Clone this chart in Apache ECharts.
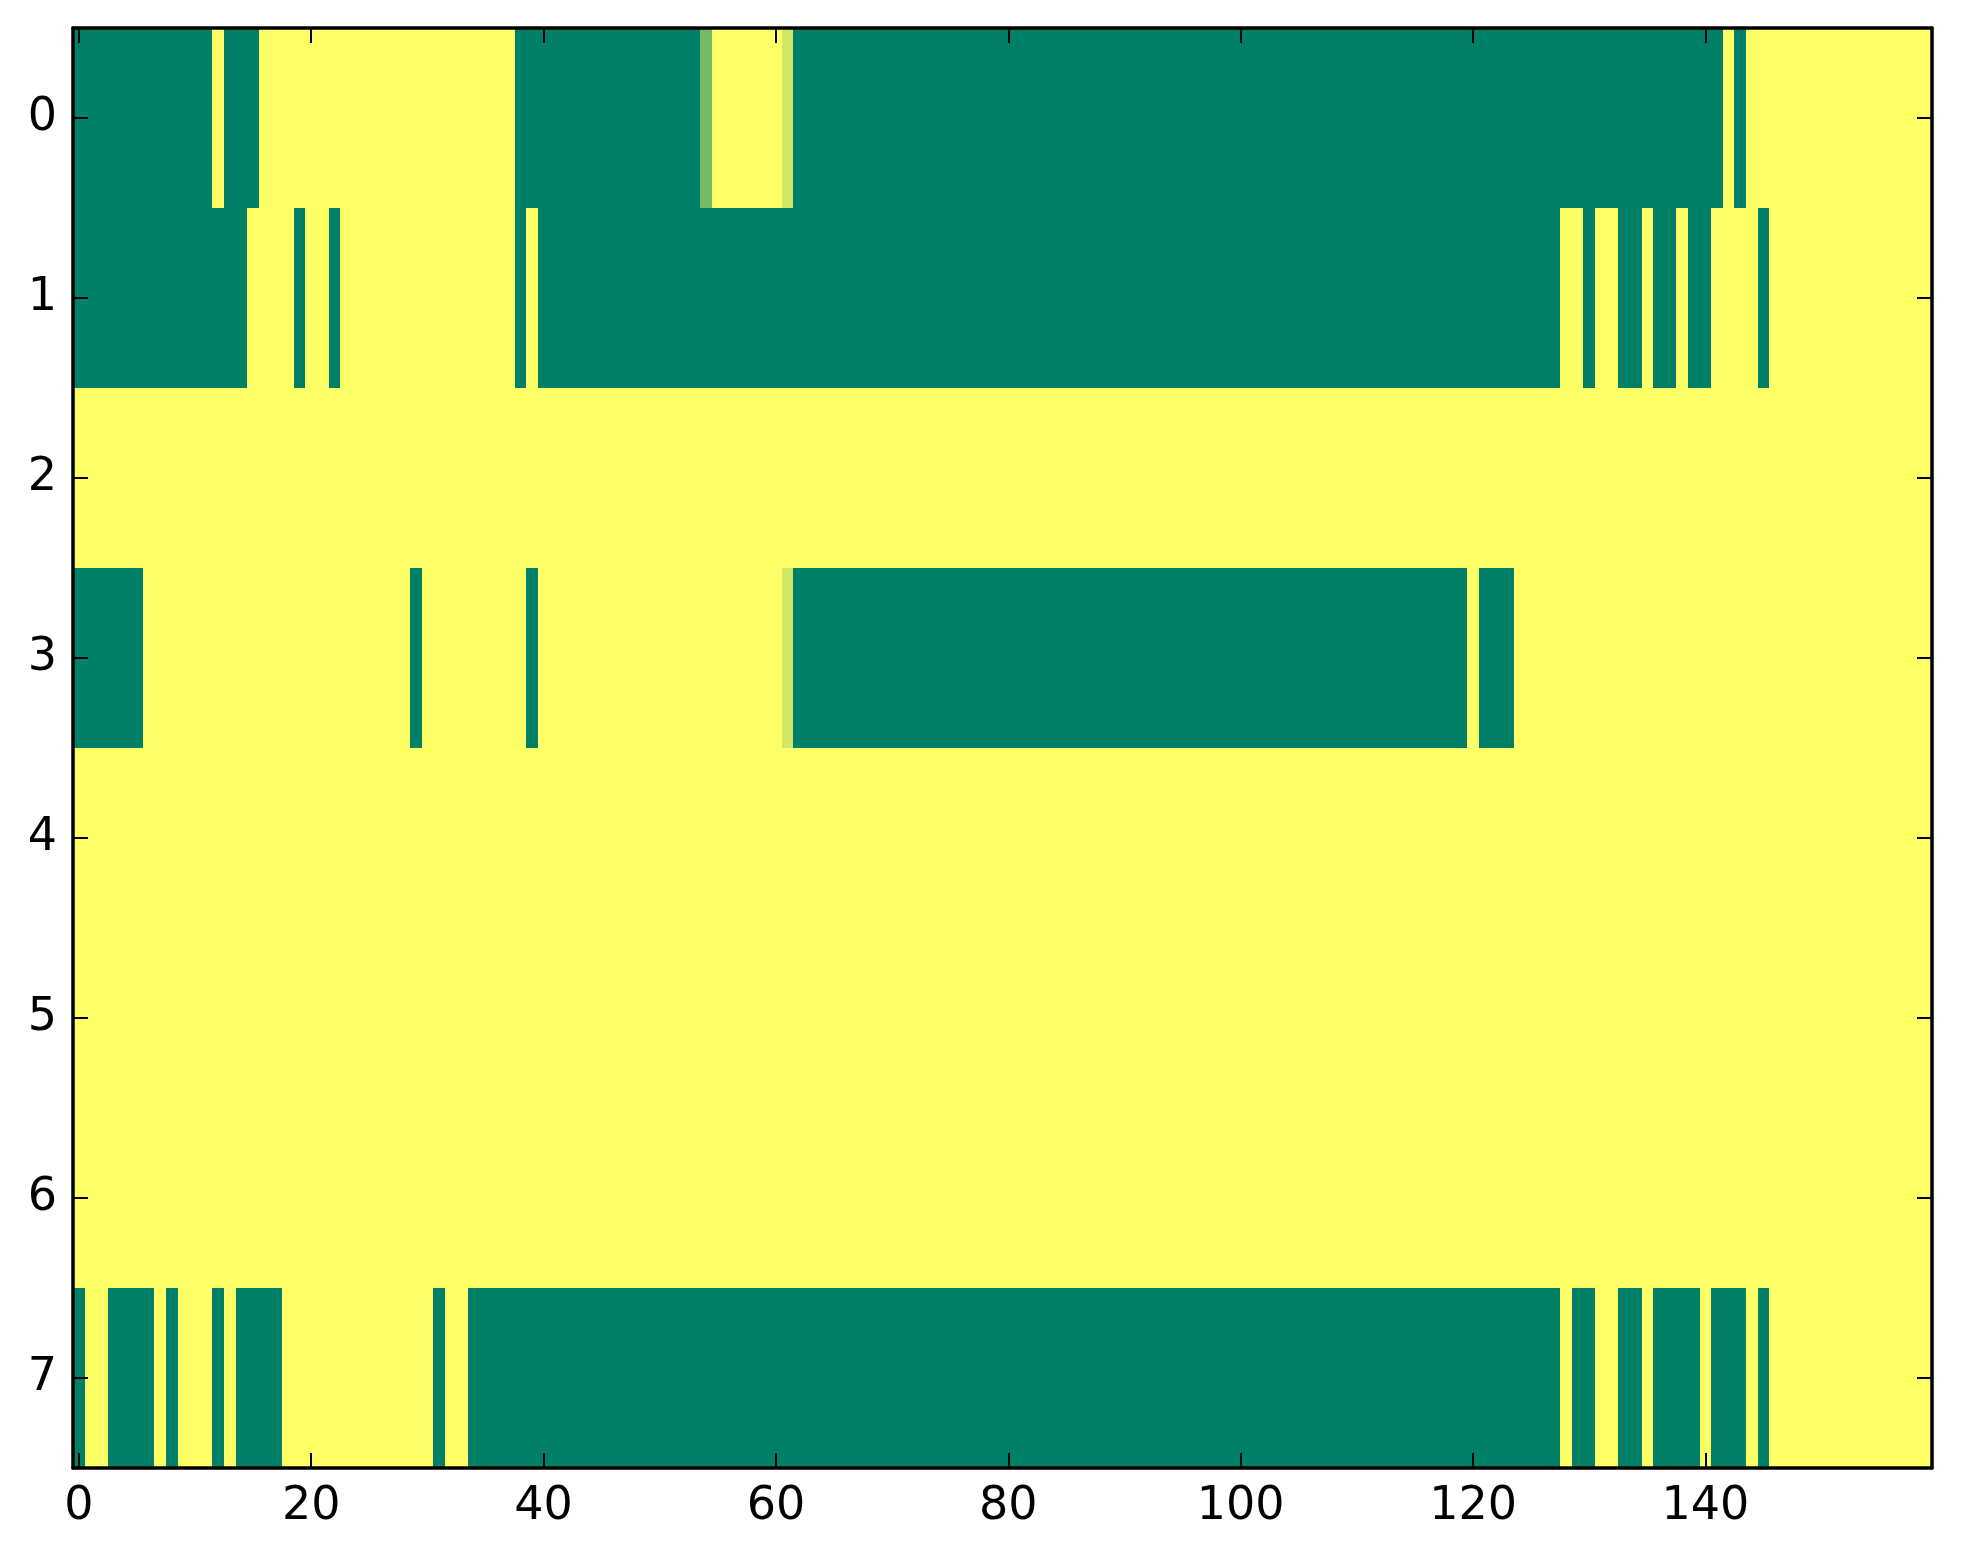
<!DOCTYPE html>
<html>
<head>
<meta charset="utf-8">
<script src="https://cdn.jsdelivr.net/npm/echarts@6/dist/echarts.min.js"></script>
<style>
html,body{margin:0;padding:0;background:#fff;}
#chart{width:1963px;height:1564px;}
</style>
</head>
<body>
<div id="chart"></div>
<script>
// Row labels (top to bottom)
const yCategories = ['0','1','2','3','4','5','6','7'];

// Cell values per row, 160 columns each (0 = dark green, 1 = yellow)
const row0 = [
0,0,0,0,0,0,0,0,0,0,
0,0,1,0,0,0,1,1,1,1,
1,1,1,1,1,1,1,1,1,1,
1,1,1,1,1,1,1,1,0,0,
0,0,0,0,0,0,0,0,0,0,
0,0,0,0,0.46,1,1,1,1,1,
1,0.82,0,0,0,0,0,0,0,0,
0,0,0,0,0,0,0,0,0,0,
0,0,0,0,0,0,0,0,0,0,
0,0,0,0,0,0,0,0,0,0,
0,0,0,0,0,0,0,0,0,0,
0,0,0,0,0,0,0,0,0,0,
0,0,0,0,0,0,0,0,0,0,
0,0,0,0,0,0,0,0,0,0,
0,0,1,0,1,1,1,1,1,1,
1,1,1,1,1,1,1,1,1,1
];
const row1 = [
0,0,0,0,0,0,0,0,0,0,
0,0,0,0,0,1,1,1,1,0,
1,1,0,1,1,1,1,1,1,1,
1,1,1,1,1,1,1,1,0,1,
0,0,0,0,0,0,0,0,0,0,
0,0,0,0,0,0,0,0,0,0,
0,0,0,0,0,0,0,0,0,0,
0,0,0,0,0,0,0,0,0,0,
0,0,0,0,0,0,0,0,0,0,
0,0,0,0,0,0,0,0,0,0,
0,0,0,0,0,0,0,0,0,0,
0,0,0,0,0,0,0,0,0,0,
0,0,0,0,0,0,0,0,1,1,
0,1,1,0,0,1,0,0,1,0,
0,1,1,1,1,0,1,1,1,1,
1,1,1,1,1,1,1,1,1,1
];
const row2 = [
1,1,1,1,1,1,1,1,1,1,
1,1,1,1,1,1,1,1,1,1,
1,1,1,1,1,1,1,1,1,1,
1,1,1,1,1,1,1,1,1,1,
1,1,1,1,1,1,1,1,1,1,
1,1,1,1,1,1,1,1,1,1,
1,1,1,1,1,1,1,1,1,1,
1,1,1,1,1,1,1,1,1,1,
1,1,1,1,1,1,1,1,1,1,
1,1,1,1,1,1,1,1,1,1,
1,1,1,1,1,1,1,1,1,1,
1,1,1,1,1,1,1,1,1,1,
1,1,1,1,1,1,1,1,1,1,
1,1,1,1,1,1,1,1,1,1,
1,1,1,1,1,1,1,1,1,1,
1,1,1,1,1,1,1,1,1,1
];
const row3 = [
0,0,0,0,0,0,1,1,1,1,
1,1,1,1,1,1,1,1,1,1,
1,1,1,1,1,1,1,1,1,0,
1,1,1,1,1,1,1,1,1,0,
1,1,1,1,1,1,1,1,1,1,
1,1,1,1,1,1,1,1,1,1,
1,0.82,0,0,0,0,0,0,0,0,
0,0,0,0,0,0,0,0,0,0,
0,0,0,0,0,0,0,0,0,0,
0,0,0,0,0,0,0,0,0,0,
0,0,0,0,0,0,0,0,0,0,
0,0,0,0,0,0,0,0,0,0,
1,0,0,0,1,1,1,1,1,1,
1,1,1,1,1,1,1,1,1,1,
1,1,1,1,1,1,1,1,1,1,
1,1,1,1,1,1,1,1,1,1
];
const row4 = [
1,1,1,1,1,1,1,1,1,1,
1,1,1,1,1,1,1,1,1,1,
1,1,1,1,1,1,1,1,1,1,
1,1,1,1,1,1,1,1,1,1,
1,1,1,1,1,1,1,1,1,1,
1,1,1,1,1,1,1,1,1,1,
1,1,1,1,1,1,1,1,1,1,
1,1,1,1,1,1,1,1,1,1,
1,1,1,1,1,1,1,1,1,1,
1,1,1,1,1,1,1,1,1,1,
1,1,1,1,1,1,1,1,1,1,
1,1,1,1,1,1,1,1,1,1,
1,1,1,1,1,1,1,1,1,1,
1,1,1,1,1,1,1,1,1,1,
1,1,1,1,1,1,1,1,1,1,
1,1,1,1,1,1,1,1,1,1
];
const row5 = [
1,1,1,1,1,1,1,1,1,1,
1,1,1,1,1,1,1,1,1,1,
1,1,1,1,1,1,1,1,1,1,
1,1,1,1,1,1,1,1,1,1,
1,1,1,1,1,1,1,1,1,1,
1,1,1,1,1,1,1,1,1,1,
1,1,1,1,1,1,1,1,1,1,
1,1,1,1,1,1,1,1,1,1,
1,1,1,1,1,1,1,1,1,1,
1,1,1,1,1,1,1,1,1,1,
1,1,1,1,1,1,1,1,1,1,
1,1,1,1,1,1,1,1,1,1,
1,1,1,1,1,1,1,1,1,1,
1,1,1,1,1,1,1,1,1,1,
1,1,1,1,1,1,1,1,1,1,
1,1,1,1,1,1,1,1,1,1
];
const row6 = [
1,1,1,1,1,1,1,1,1,1,
1,1,1,1,1,1,1,1,1,1,
1,1,1,1,1,1,1,1,1,1,
1,1,1,1,1,1,1,1,1,1,
1,1,1,1,1,1,1,1,1,1,
1,1,1,1,1,1,1,1,1,1,
1,1,1,1,1,1,1,1,1,1,
1,1,1,1,1,1,1,1,1,1,
1,1,1,1,1,1,1,1,1,1,
1,1,1,1,1,1,1,1,1,1,
1,1,1,1,1,1,1,1,1,1,
1,1,1,1,1,1,1,1,1,1,
1,1,1,1,1,1,1,1,1,1,
1,1,1,1,1,1,1,1,1,1,
1,1,1,1,1,1,1,1,1,1,
1,1,1,1,1,1,1,1,1,1
];
const row7 = [
0,1,1,0,0,0,0,1,0,1,
1,1,0,1,0,0,0,0,1,1,
1,1,1,1,1,1,1,1,1,1,
1,0,1,1,0,0,0,0,0,0,
0,0,0,0,0,0,0,0,0,0,
0,0,0,0,0,0,0,0,0,0,
0,0,0,0,0,0,0,0,0,0,
0,0,0,0,0,0,0,0,0,0,
0,0,0,0,0,0,0,0,0,0,
0,0,0,0,0,0,0,0,0,0,
0,0,0,0,0,0,0,0,0,0,
0,0,0,0,0,0,0,0,0,0,
0,0,0,0,0,0,0,0,1,0,
0,1,1,0,0,1,0,0,0,0,
1,0,0,0,1,0,1,1,1,1,
1,1,1,1,1,1,1,1,1,1
];
const rows = [row0,row1,row2,row3,row4,row5,row6,row7];

// Column categories (indices 0..159) and labelled tick step
const columnCount = row0.length;
const xCategories = [];
for (let i = 0; i < columnCount; i++) xCategories.push(String(i));
const xTickStep = 20;

const heatData = [];
rows.forEach((r, y) => r.forEach((v, x) => heatData.push([x, y, v])));

const FONT = 'DejaVu Sans';
const tickShown = (i) => i % xTickStep === 0;

function renderCell(params, api) {
  const c = api.coord([api.value(0), api.value(1)]);
  const s = api.size([1, 1]);
  const x0 = Math.round(c[0] - s[0] / 2), x1 = Math.round(c[0] + s[0] / 2);
  const y0 = Math.round(c[1] - s[1] / 2), y1 = Math.round(c[1] + s[1] / 2);
  return {
    type: 'rect',
    shape: {x: x0, y: y0, width: x1 - x0, height: y1 - y0},
    style: {fill: api.visual('color'), stroke: null}
  };
}

const chart = echarts.init(document.getElementById('chart'), null, {renderer: 'canvas'});
chart.setOption({
  animation: false,
  backgroundColor: '#ffffff',
  grid: {left: 73, right: 31, top: 28, bottom: 96, containLabel: false},
  visualMap: {
    show: false, type: 'continuous', min: 0, max: 1, dimension: 2, seriesIndex: 0,
    inRange: {color: ['#008066', '#ffff66']}
  },
  xAxis: [
    {
      type: 'category', data: xCategories, position: 'bottom', z: 10,
      axisLine: {show: true, lineStyle: {color: '#000', width: 3.5}},
      axisTick: {show: true, inside: true, length: 15, alignWithLabel: true, interval: (i) => tickShown(i), lineStyle: {color: '#000', width: 2}},
      axisLabel: {show: true, interval: (i) => tickShown(i), margin: 16, color: '#000', fontFamily: FONT, fontSize: 46, lineHeight: 46},
      splitLine: {show: false}
    },
    {
      type: 'category', data: xCategories, position: 'top', z: 10,
      axisLine: {show: true, lineStyle: {color: '#000', width: 3.5}},
      axisTick: {show: true, inside: true, length: 15, alignWithLabel: true, interval: (i) => tickShown(i), lineStyle: {color: '#000', width: 2}},
      axisLabel: {show: false},
      splitLine: {show: false}
    }
  ],
  yAxis: [
    {
      type: 'category', data: yCategories, inverse: true, position: 'left', z: 10,
      axisLine: {show: true, lineStyle: {color: '#000', width: 3.5}},
      axisTick: {show: true, inside: true, length: 15, alignWithLabel: true, lineStyle: {color: '#000', width: 2}},
      axisLabel: {show: true, margin: 16, color: '#000', fontFamily: FONT, fontSize: 46},
      splitLine: {show: false}
    },
    {
      type: 'category', data: yCategories, inverse: true, position: 'right', z: 10,
      axisLine: {show: true, lineStyle: {color: '#000', width: 3.5}},
      axisTick: {show: true, inside: true, length: 15, alignWithLabel: true, lineStyle: {color: '#000', width: 2}},
      axisLabel: {show: false},
      splitLine: {show: false}
    }
  ],
  series: [{
    type: 'custom',
    xAxisIndex: 0, yAxisIndex: 0,
    renderItem: renderCell,
    encode: {x: 0, y: 1},
    data: heatData,
    progressive: 0,
    emphasis: {disabled: true},
    silent: true
  }]
});
</script>
</body>
</html>
